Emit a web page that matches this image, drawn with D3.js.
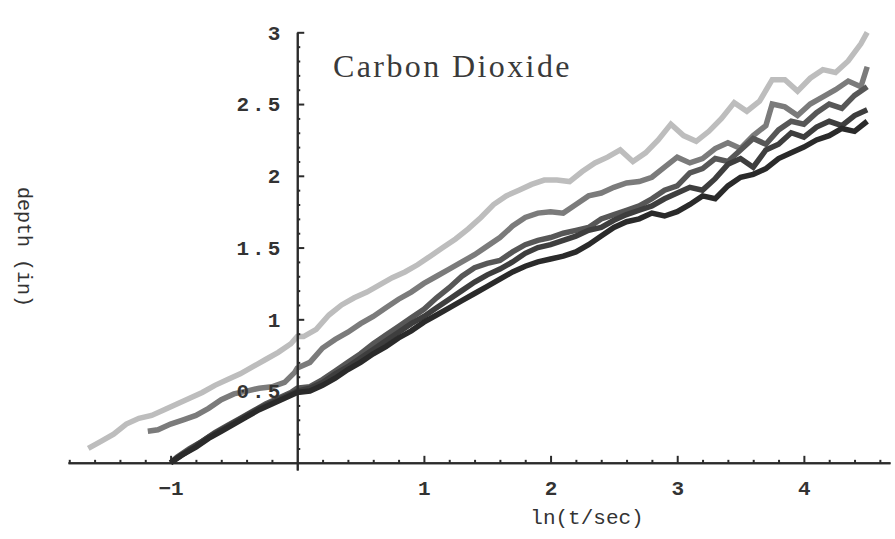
<!DOCTYPE html>
<html>
<head>
<meta charset="utf-8">
<script src="https://cdn.jsdelivr.net/npm/d3@7"></script>
<style>
  html, body { margin: 0; padding: 0; background: #fff; }
  svg { display: block; }
</style>
</head>
<body>
<svg id="chart" width="895" height="539"></svg>
<script>
// ---- data (x = ln(t/sec), y = depth in inches) ----
const seriesLight = [
  [-1.65,0.10],[-1.55,0.15],[-1.45,0.20],[-1.35,0.27],[-1.25,0.31],[-1.15,0.33],[-1.05,0.37],
  [-0.95,0.41],[-0.85,0.45],[-0.75,0.49],[-0.65,0.54],[-0.55,0.58],[-0.45,0.62],[-0.35,0.67],
  [-0.25,0.72],[-0.15,0.77],[-0.05,0.83],[0.00,0.88],[0.05,0.88],[0.15,0.93],[0.25,1.03],
  [0.35,1.10],[0.45,1.15],[0.55,1.19],[0.65,1.24],[0.75,1.29],[0.85,1.33],[0.95,1.38],
  [1.05,1.44],[1.15,1.50],[1.25,1.56],[1.35,1.63],[1.45,1.71],[1.55,1.80],[1.65,1.86],
  [1.75,1.90],[1.85,1.94],[1.95,1.97],[2.05,1.97],[2.15,1.96],[2.25,2.03],[2.35,2.09],
  [2.45,2.13],[2.55,2.18],[2.65,2.10],[2.75,2.16],[2.85,2.25],[2.95,2.36],[3.05,2.28],
  [3.15,2.24],[3.25,2.31],[3.35,2.40],[3.45,2.51],[3.55,2.45],[3.65,2.52],[3.75,2.67],
  [3.85,2.67],[3.95,2.59],[4.05,2.68],[4.15,2.74],[4.25,2.72],[4.35,2.80],[4.45,2.92],[4.50,3.00]
];
const seriesMid = [
  [-1.18,0.22],[-1.10,0.23],[-1.00,0.27],[-0.90,0.30],[-0.80,0.33],[-0.70,0.38],[-0.60,0.44],
  [-0.50,0.48],[-0.40,0.50],[-0.30,0.52],[-0.20,0.53],[-0.10,0.56],[-0.02,0.63],[0.00,0.66],
  [0.10,0.70],[0.20,0.80],[0.30,0.86],[0.40,0.91],[0.50,0.97],[0.60,1.02],[0.70,1.08],
  [0.80,1.14],[0.90,1.19],[1.00,1.25],[1.10,1.30],[1.20,1.35],[1.30,1.40],[1.40,1.45],
  [1.50,1.51],[1.60,1.57],[1.70,1.65],[1.80,1.71],[1.90,1.74],[2.00,1.75],[2.10,1.74],
  [2.20,1.80],[2.30,1.86],[2.40,1.88],[2.50,1.92],[2.60,1.95],[2.70,1.96],[2.80,1.99],
  [2.90,2.06],[3.00,2.13],[3.10,2.09],[3.20,2.12],[3.30,2.19],[3.40,2.23],[3.50,2.19],
  [3.60,2.28],[3.70,2.35],[3.75,2.50],[3.85,2.48],[3.95,2.42],[4.05,2.50],[4.15,2.55],
  [4.25,2.60],[4.35,2.66],[4.45,2.62],[4.50,2.76]
];
const seriesDark1 = [
  [-1.00,0.00],[-0.95,0.04],[-0.85,0.10],[-0.75,0.15],[-0.65,0.21],[-0.55,0.26],[-0.45,0.31],
  [-0.35,0.36],[-0.25,0.41],[-0.15,0.45],[-0.05,0.49],[0.00,0.52],[0.10,0.53],[0.20,0.58],
  [0.30,0.64],[0.40,0.70],[0.50,0.76],[0.60,0.83],[0.70,0.89],[0.80,0.95],[0.90,1.01],
  [1.00,1.07],[1.10,1.15],[1.20,1.22],[1.30,1.30],[1.40,1.36],[1.50,1.39],[1.60,1.41],
  [1.70,1.47],[1.80,1.52],[1.90,1.55],[2.00,1.57],[2.10,1.60],[2.20,1.62],[2.30,1.64],
  [2.40,1.70],[2.50,1.73],[2.60,1.76],[2.70,1.79],[2.80,1.84],[2.90,1.90],[3.00,1.93],
  [3.10,2.02],[3.20,2.05],[3.30,2.12],[3.40,2.10],[3.50,2.18],[3.60,2.26],[3.70,2.22],
  [3.80,2.32],[3.90,2.38],[4.00,2.36],[4.10,2.44],[4.20,2.50],[4.30,2.47],[4.40,2.56],[4.50,2.62]
];
const seriesDark2 = [
  [-1.00,0.00],[-0.90,0.06],[-0.80,0.12],[-0.70,0.18],[-0.60,0.23],[-0.50,0.28],[-0.40,0.33],
  [-0.30,0.38],[-0.20,0.42],[-0.10,0.46],[0.00,0.50],[0.10,0.52],[0.20,0.56],[0.30,0.62],
  [0.40,0.67],[0.50,0.73],[0.60,0.79],[0.70,0.85],[0.80,0.91],[0.90,0.97],[1.00,1.02],
  [1.10,1.08],[1.20,1.14],[1.30,1.20],[1.40,1.26],[1.50,1.31],[1.60,1.35],[1.70,1.40],
  [1.80,1.46],[1.90,1.50],[2.00,1.52],[2.10,1.55],[2.20,1.58],[2.30,1.62],[2.40,1.64],
  [2.50,1.69],[2.60,1.73],[2.70,1.76],[2.80,1.79],[2.90,1.84],[3.00,1.88],[3.10,1.92],
  [3.20,1.90],[3.30,1.98],[3.40,2.08],[3.50,2.12],[3.60,2.06],[3.70,2.18],[3.80,2.22],
  [3.90,2.30],[4.00,2.27],[4.10,2.34],[4.20,2.38],[4.30,2.35],[4.40,2.42],[4.50,2.46]
];
const seriesDark3 = [
  [-1.00,0.00],[-0.92,0.05],[-0.80,0.11],[-0.70,0.17],[-0.60,0.22],[-0.50,0.27],[-0.40,0.32],
  [-0.30,0.37],[-0.20,0.41],[-0.10,0.45],[0.00,0.49],[0.10,0.50],[0.20,0.54],[0.30,0.59],
  [0.40,0.65],[0.50,0.70],[0.60,0.76],[0.70,0.81],[0.80,0.87],[0.90,0.92],[1.00,0.98],
  [1.10,1.03],[1.20,1.08],[1.30,1.13],[1.40,1.18],[1.50,1.23],[1.60,1.28],[1.70,1.33],
  [1.80,1.37],[1.90,1.40],[2.00,1.42],[2.10,1.44],[2.20,1.47],[2.30,1.52],[2.40,1.58],
  [2.50,1.64],[2.60,1.68],[2.70,1.70],[2.80,1.74],[2.90,1.72],[3.00,1.75],[3.10,1.80],
  [3.20,1.86],[3.30,1.84],[3.40,1.93],[3.50,1.99],[3.60,2.01],[3.70,2.05],[3.80,2.12],
  [3.90,2.16],[4.00,2.20],[4.10,2.25],[4.20,2.28],[4.30,2.33],[4.40,2.31],[4.50,2.38]
];
const seriesColors = ["#bdbdbd", "#7b7b7b", "#575757", "#3e3e3e", "#2a2a2a"];
const xMajorTicks = [-1, 1, 2, 3, 4];
const yMajorTicks = [0.5, 1, 1.5, 2, 2.5, 3];
const titleText = "Carbon Dioxide";
const xTitle = "ln(t/sec)";
const yTitle = "depth (in)";

// ---- drawing ----
const svg = d3.select("#chart");
const x = d3.scaleLinear().domain([-1.81, 4.68]).range([68, 890]);
const y = d3.scaleLinear().domain([-0.05, 3]).range([470, 32.3]);
const axisColor = "#2b2b2b";

const allSeries = [seriesLight, seriesMid, seriesDark1, seriesDark2, seriesDark3];
const line = d3.line().x(d => x(d[0])).y(d => y(d[1]));

svg.append("g").selectAll("path")
  .data(allSeries)
  .join("path")
  .attr("d", line)
  .attr("fill", "none")
  .attr("stroke", (d, i) => seriesColors[i])
  .attr("stroke-width", 5.5)
  .attr("stroke-linejoin", "miter")
  .attr("stroke-linecap", "butt");

// x axis
const xMinor = d3.range(-18, 47, 2).map(v => v / 10).filter(v => !xMajorTicks.includes(v) && v !== 0);
const gx = svg.append("g").attr("transform", `translate(0,${y(0)})`);
gx.append("g").call(d3.axisBottom(x).tickValues(xMinor).tickSize(-3).tickSizeOuter(0).tickFormat(""));
gx.append("g").call(d3.axisBottom(x).tickValues(xMajorTicks).tickSize(-7).tickSizeOuter(0).tickPadding(17)
  .tickFormat(d3.format("")));
gx.selectAll("path.domain").attr("stroke", axisColor).attr("stroke-width", 2);
gx.selectAll("line").attr("stroke", axisColor).attr("stroke-width", 2);
gx.selectAll("text")
  .attr("font-family", "'Liberation Mono', monospace")
  .attr("font-size", 21)
  .attr("font-weight", "bold")
  .attr("fill", "#333");

// y axis
const yMinor = d3.range(1, 30).map(v => v / 10).filter(v => Math.abs(v * 2 - Math.round(v * 2)) > 1e-6);
const gy = svg.append("g").attr("transform", `translate(${x(0)},0)`);
gy.append("g").call(d3.axisLeft(y).tickValues(yMinor).tickSize(-3).tickSizeOuter(0).tickFormat(""));
gy.append("g").call(d3.axisLeft(y).tickValues(yMajorTicks).tickSize(-7).tickSizeOuter(0).tickPadding(14)
  .tickFormat(d3.format("")));
gy.selectAll("path.domain").attr("stroke", axisColor).attr("stroke-width", 2);
gy.selectAll("line").attr("stroke", axisColor).attr("stroke-width", 2);
gy.selectAll("text")
  .attr("font-family", "'Liberation Mono', monospace")
  .attr("font-size", 21)
  .attr("font-weight", "bold")
  .attr("letter-spacing", 3)
  .attr("fill", "#333");

// titles
svg.append("text")
  .attr("x", 333).attr("y", 77)
  .attr("font-family", "'Liberation Serif', 'Times New Roman', serif")
  .attr("font-size", 32)
  .attr("letter-spacing", 2.4)
  .attr("fill", "#3a3a3a")
  .text(titleText);

svg.append("text")
  .attr("x", 587).attr("y", 524)
  .attr("text-anchor", "middle")
  .attr("font-family", "'Liberation Mono', monospace")
  .attr("font-size", 21)
  .attr("fill", "#333")
  .text(xTitle);

svg.append("text")
  .attr("transform", "translate(18,247) rotate(90)")
  .attr("text-anchor", "middle")
  .attr("font-family", "'Liberation Mono', monospace")
  .attr("font-size", 20)
  .attr("fill", "#333")
  .text(yTitle);
</script>
</body>
</html>
